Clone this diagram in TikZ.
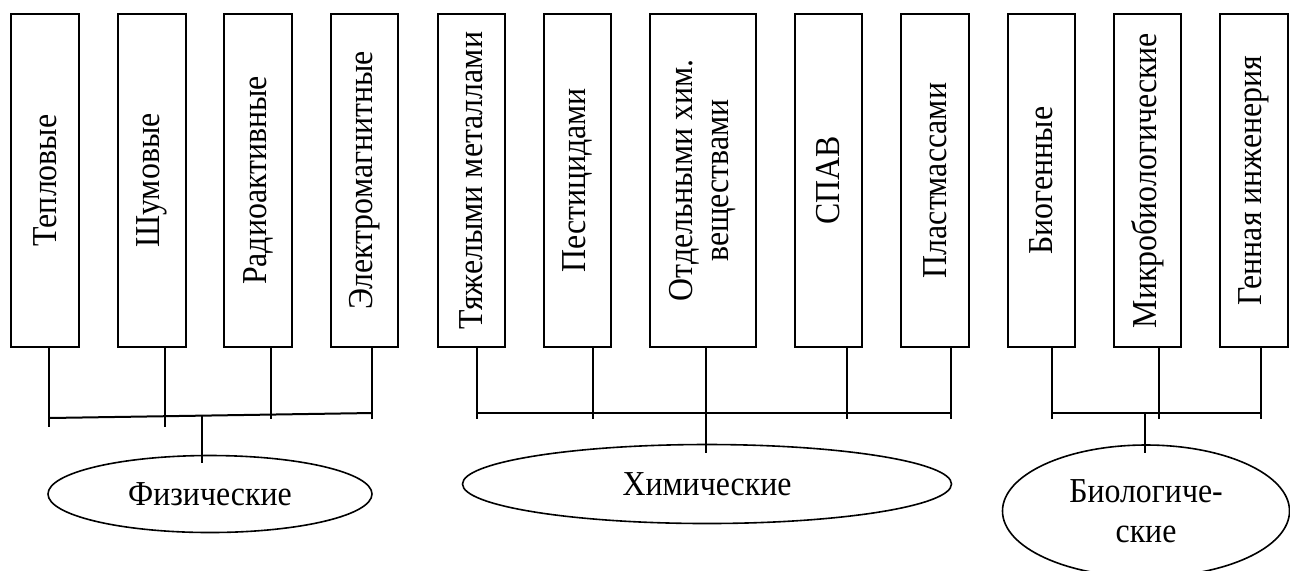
\documentclass[tikz,border=0pt]{standalone}
\usepackage{fontspec}
\setmainfont{Liberation Serif}
\usetikzlibrary{shapes.geometric}
\newcommand{\sq}[1]{\scalebox{0.91}[1]{#1}}
\newcommand{\vt}[1]{\rotatebox{90}{\sq{#1}}}
\begin{document}
\begin{tikzpicture}[x=0.5pt,y=-0.5pt,
  box/.style={draw,line width=1pt,minimum width=34pt,minimum height=166.5pt,inner sep=0pt,font=\fontsize{17.5}{18}\selectfont},
  oval/.style={draw,ellipse,line width=0.8pt,inner sep=0pt,font=\fontsize{17.5}{20}\selectfont,align=center},
  conn/.style={line width=1pt}]
\useasboundingbox (0,0) rectangle (1290,570);
% boxes
\node[box] (b1) at (45,180.5) {\vt{Тепловые}};
\node[box] (b2) at (152,180.5) {\vt{Шумовые}};
\node[box] (b3) at (258,180.5) {\vt{Радиоактивные}};
\node[box,minimum width=33.5pt] (b4) at (364.5,180.5) {\vt{Электромагнитные}};
\node[box,minimum width=33.5pt] (b5) at (471.5,180.5) {\vt{Тяжелыми металлами}};
\node[box,minimum width=33.5pt] (b6) at (577.5,180.5) {\vt{Пестицидами}};
\node[box,minimum width=53pt] (b7) at (703,180.5) {\vt{\begin{tabular}{@{}c@{}}Отдельными хим.\\веществами\end{tabular}}};
\node[box,minimum width=33.5pt] (b8) at (828.5,180.5) {\vt{СПАВ}};
\node[box] (b9) at (935,180.5) {\vt{Пластмассами}};
\node[box,minimum width=33.5pt] (b10) at (1041.5,180.5) {\vt{Биогенные}};
\node[box,minimum width=33.5pt] (b11) at (1147.5,180.5) {\vt{Микробиологические}};
\node[box] (b12) at (1254,180.5) {\vt{Генная инженерия}};
% ellipses
\node[oval,minimum width=162pt,minimum height=38.5pt] (e1) at (210,494) {\sq{Физические}};
\node[oval,minimum width=244.5pt,minimum height=39.5pt] (e2) at (707,484) {\sq{Химические}};
\node[oval,minimum width=143.5pt,minimum height=66pt] (e3) at (1146,511) {\sq{Биологиче-}\\\sq{ские}};
% stem ends
\coordinate (s1) at (49,427);
\coordinate (s2) at (165,427);
\coordinate (s3) at (271,419);
\coordinate (s4) at (372,419);
\coordinate (s5) at (477,419);
\coordinate (s6) at (593,419);
\coordinate (s7) at (706,419);
\coordinate (s8) at (847,419);
\coordinate (s9) at (951,419);
\coordinate (s10) at (1052,419);
\coordinate (s11) at (1159,419);
\coordinate (s12) at (1261,419);
% bus ends
\coordinate (pa) at (49,418);
\coordinate (pb) at (372,413);
\coordinate (ca) at (477,413);
\coordinate (cb) at (951,413);
\coordinate (ba) at (1052,413);
\coordinate (bb) at (1261,413);
% central stems
\coordinate (pm) at (202,415.5);
\coordinate (pe) at (202,463);
\coordinate (cm) at (706,413);
\coordinate (ce) at (706,453);
\coordinate (bm) at (1145,413);
\coordinate (be) at (1145,453);
\foreach \i in {1,...,12} {\draw[conn] (b\i.south -| s\i) -- (s\i);}
\draw[conn] (pa) -- (pb);
\draw[conn] (ca) -- (cb);
\draw[conn] (ba) -- (bb);
\draw[conn] (pm) -- (pe);
\draw[conn] (cm) -- (ce);
\draw[conn] (bm) -- (be);
\end{tikzpicture}
\end{document}
